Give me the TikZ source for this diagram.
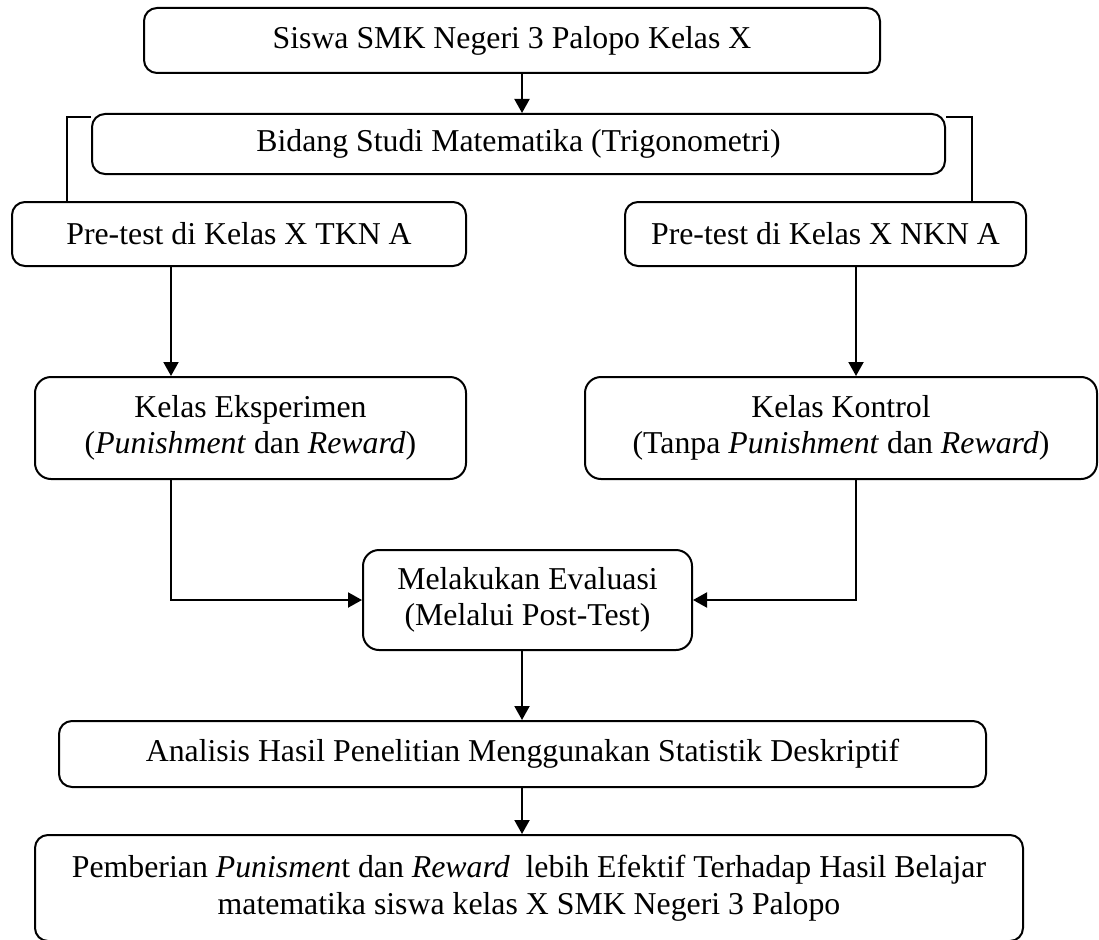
\documentclass[tikz,border=0pt]{standalone}
\usepackage{fontspec}
\setmainfont{Liberation Serif}
\usepackage{tikz}
\usetikzlibrary{calc,arrows.meta}
\tikzset{
  box/.style={draw, line width=2pt, rounded corners=13pt, align=center, inner sep=2pt,
    font=\fontsize{31.8}{36.5}\selectfont},
  flow/.style={line width=2pt, -{Triangle[length=14pt,width=15pt]}},
  link/.style={line width=1.6pt}
}

\begin{document}
\begin{tikzpicture}[x=1pt,y=-1pt]
		%%%%% START %%%%%
		\clip (0,0) rectangle (1099,939);
		
		\node[box, minimum width=736pt, minimum height=65pt] (siswa) at (512, 40.5) {Siswa SMK Negeri 3 Palopo Kelas X};
		\node[box, minimum width=853pt, minimum height=60pt] (bidang) at (518.5, 144) {Bidang Studi Matematika (Trigonometri)};
		
		\node[box, minimum width=454pt, minimum height=64pt] (pretkn) at (239, 234) {Pre-test di Kelas X TKN A};
		\node[box, minimum width=401pt, minimum height=64pt] (prenkn) at (825.5, 234) {Pre-test di Kelas X NKN A};
		
		\node[box, minimum width=431pt, minimum height=102pt, rounded corners=16pt] (eksp) at (250.5, 428) {Kelas Eksperimen\\(\textit{Punishment} dan \textit{Reward})};
		\node[box, minimum width=512pt, minimum height=102pt, rounded corners=16pt] (kontrol) at (841, 428) {Kelas Kontrol\\(Tanpa \textit{Punishment} dan \textit{Reward})};
		
		\node[box, minimum width=329pt, minimum height=100pt, rounded corners=16pt] (evaluasi) at (527.5, 600) {Melakukan Evaluasi\\(Melalui Post-Test)};
		
		\node[box, minimum width=927pt, minimum height=66pt] (analisis) at (522.5, 754) {Analisis Hasil Penelitian Menggunakan Statistik Deskriptif};
		\node[box, minimum width=988pt, minimum height=106pt] (hasil) at (529, 888) {Pemberian \textit{Punismen}t dan \textit{Reward}\ \ lebih Efektif Terhadap Hasil Belajar\\matematika siswa kelas X SMK Negeri 3 Palopo};
		
		\coordinate (tengah) at (522, 0);
		\coordinate (kiri) at (171, 0);
		\coordinate (kanan) at (856, 0);
		
		\draw[flow] (siswa.south -| tengah) -- (bidang.north -| tengah);
		
		\draw[link] ($(bidang.north west)+(0,4)$) -- ++(-24,0) coordinate (bkiri) -- (bkiri |- pretkn.north);
		\draw[link] ($(bidang.north east)+(0,4)$) -- ++(26,0) coordinate (bkanan) -- (bkanan |- prenkn.north);
		
		\draw[flow] (pretkn.south -| kiri) -- (eksp.north -| kiri);
		\draw[flow] (prenkn.south -| kanan) -- (kontrol.north -| kanan);
		
		\draw[flow] (eksp.south -| kiri) |- (evaluasi.west);
		\draw[flow] (kontrol.south -| kanan) |- (evaluasi.east);
		
		\draw[flow] (evaluasi.south -| tengah) -- (analisis.north -| tengah);
		\draw[flow] (analisis.south -| tengah) -- (hasil.north -| tengah);
		%%%%% END %%%%%
\end{tikzpicture}
\end{document}
